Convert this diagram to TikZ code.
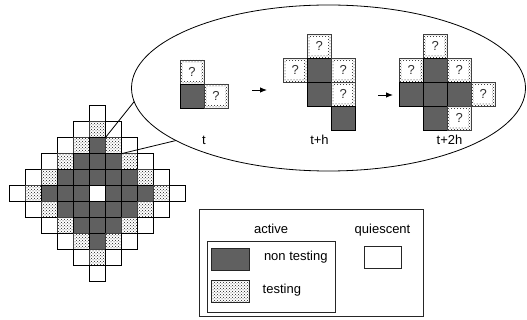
\documentclass[tikz,border=0pt]{standalone}
\usepackage{fontspec}
\setmainfont{Liberation Sans}
\usetikzlibrary{patterns,shapes.geometric,arrows.meta}
\definecolor{darkfill}{RGB}{96,96,96}
\tikzset{
  lbl/.style={font=\fontsize{13pt}{15pt}\selectfont, inner sep=0, outer sep=0},
  gcell/.style={draw=black, line width=0.7pt, minimum size=16pt, inner sep=0, outer sep=0},
  quietcell/.style={gcell, fill=white},
  darkcell/.style={gcell, fill=darkfill},
  testcell/.style={gcell, draw=black!75, pattern=crosshatch dots, pattern color=black!90},
  bigdark/.style={darkcell, minimum size=24pt},
  bigtest/.style={testcell, minimum size=24pt, font=\fontsize{13pt}{15pt}\selectfont,
    text=black!80,
    path picture={\fill[white] ([shift={(3pt,3pt)}]path picture bounding box.south west)
      rectangle ([shift={(-3pt,-3pt)}]path picture bounding box.north east);}},
  swatch/.style={draw=black!85, line width=0.8pt, minimum width=37.5pt, minimum height=22.5pt, inner sep=0, outer sep=0},
  frame/.style={draw=black!85, line width=0.8pt, inner sep=0, outer sep=0},
  stepArrow/.style={line width=0.9pt, -{Latex[length=7pt,width=5.5pt]}},
}
\begin{document}
\begin{tikzpicture}[x=1pt,y=-1pt]
\useasboundingbox (0,0) rectangle (527,320);
\fill[white] (0,0) rectangle (527,320);

% zoom ellipse
\node[draw, ellipse, line width=0.8pt, minimum width=394pt, minimum height=166pt, inner sep=0, outer sep=0] (zoom) at (328.5,88) {};

% diamond grid
\foreach \r in {-5,...,5}{
  \foreach \c in {-5,...,5}{
    \pgfmathtruncatemacro{\d}{abs(\r)+abs(\c)}
    \pgfmathtruncatemacro{\cc}{\c+5}
    \pgfmathtruncatemacro{\rr}{\r+5}
    \ifnum\d>5\relax\else
      \ifcase\d \def\sty{quietcell}\or\def\sty{darkcell}\or\def\sty{darkcell}\or\def\sty{darkcell}\or\def\sty{testcell}\or\def\sty{quietcell}\fi
      \node[\sty] (g\cc-\rr) at ({97.3+16*\c},{193.7+16*\r}) {};
    \fi
  }
}

% callout lines
\draw[line width=0.8pt] (g5-2.north east) -- (zoom.184.7);
\draw[line width=0.8pt] (g6-3.north east) -- (zoom.199);

% group t
\node[bigtest] (ta) at (192,72) {?};
\node[bigdark] (tb) at (192,96) {};
\node[bigtest] (tc) at (216,96) {?};
\node[lbl, anchor=base] (tl) at (204,145) {t};

% group t+h
\node[bigtest] (ha) at (319.3,46.3) {?};
\node[bigtest] (hb) at (295.3,70.3) {?};
\node[bigdark] (hc) at (319.3,70.3) {};
\node[bigtest] (hd) at (343.3,70.3) {?};
\node[bigdark] (he) at (319.3,94.3) {};
\node[bigtest] (hf) at (343.3,94.3) {?};
\node[bigdark] (hg) at (343.3,118.3) {};
\node[lbl, anchor=base] (hl) at (319.5,145) {t+h};

% group t+2h
\node[bigtest] (ka) at (435.3,46.3) {?};
\node[bigtest] (kb) at (411.3,70.3) {?};
\node[bigdark] (kc) at (435.3,70.3) {};
\node[bigtest] (kd) at (459.3,70.3) {?};
\node[bigdark] (ke) at (411.3,94.3) {};
\node[bigdark] (kf) at (435.3,94.3) {};
\node[bigdark] (kg) at (459.3,94.3) {};
\node[bigtest] (kh) at (483.3,94.3) {?};
\node[bigdark] (ki) at (435.3,118.3) {};
\node[bigtest] (kj) at (459.3,118.3) {?};
\node[lbl, anchor=base] (kl) at (449.5,145) {t+2h};

% arrows
\coordinate (a1s) at (252,90);
\coordinate (a1e) at (267,90);
\coordinate (a2s) at (378,95);
\coordinate (a2e) at (393,95);
\draw[stepArrow] (a1s) -- (a1e);
\draw[stepArrow] (a2s) -- (a2e);

% legend
\node[frame, minimum width=224pt, minimum height=107pt] (legend) at (311,262.5) {};
\node[frame, minimum width=128.5pt, minimum height=71pt] (activebox) at (271.25,276.5) {};
\node[lbl, anchor=base] (activel) at (271,234) {active};
\node[lbl, anchor=base] (quietl) at (382.5,234) {quiescent};
\node[swatch, fill=darkfill] (sdark) at (230.5,259.5) {};
\node[swatch, pattern=crosshatch dots, pattern color=black!90] (stest) at (230.5,291.3) {};
\node[swatch, fill=white] (squiet) at (383,257.2) {};
\node[lbl, anchor=base west] (ntl) at (264,260.5) {non testing};
\node[lbl, anchor=base west] (tsl) at (262.7,293) {testing};
\end{tikzpicture}
\end{document}
